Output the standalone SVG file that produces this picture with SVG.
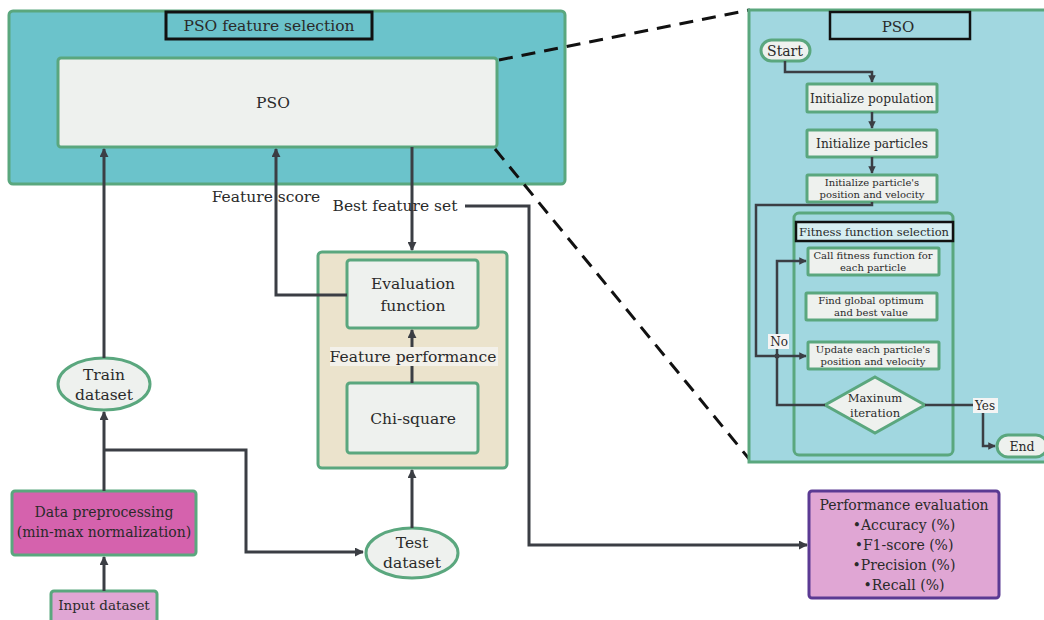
<svg xmlns="http://www.w3.org/2000/svg" width="1044" height="620" viewBox="0 0 1044 620">
  <defs>
    <style>
      text { font-family: "DejaVu Serif", "Liberation Serif", serif; fill: #2a2a2a; text-anchor: middle; }
      .panel { fill: #6bc3cb; stroke: #5aa77e; stroke-width: 3; }
      .zoom { fill: #a1d7e0; stroke: #5aa77e; stroke-width: 3; }
      .node { fill: #eef1ee; stroke: #5aa77e; stroke-width: 3; }
      .tan { fill: #ebe3cc; stroke: #5aa77e; stroke-width: 3; }
      .title { fill: #6bc3cb; stroke: #111; stroke-width: 3; }
      .title2 { fill: #a1d7e0; stroke: #111; stroke-width: 2.5; }
      .title3 { fill: #d6eef1; stroke: #111; stroke-width: 2.5; }
      .magenta { fill: #d562ad; stroke: #5aa77e; stroke-width: 3; }
      .pink { fill: #e0a6d4; stroke: #5aa77e; stroke-width: 3; }
      .perf { fill: #e0a6d4; stroke: #5b3a93; stroke-width: 3; }
      .wire { fill: none; stroke: #3b3e44; stroke-width: 3; }
      .thin { fill: none; stroke: #3b3e44; stroke-width: 2.5; }
      .dash { fill: none; stroke: #111; stroke-width: 3; stroke-dasharray: 14 9; }
    </style>
    <marker id="arr" viewBox="0 0 10 10" refX="9" refY="5" markerWidth="3" markerHeight="3" orient="auto">
      <path d="M0,0 L10,5 L0,10 z" fill="#3b3e44"/>
    </marker>
  </defs>

  <rect width="1044" height="620" fill="#ffffff"/>

  <!-- PSO feature selection block -->
  <g id="pso-block">
    <rect class="panel" x="9" y="11" width="556" height="173" rx="4"/>
    <rect class="title" x="166" y="12" width="206" height="27"/>
    <text x="269" y="31" font-size="15.5">PSO feature selection</text>
  </g>
  <g id="pso">
    <rect class="node" x="58" y="58" width="439" height="89" rx="3"/>
    <text x="273" y="108" font-size="15.5">PSO</text>
  </g>

  <!-- Zoom guide lines from the PSO block to the detail panel -->
  <g id="zoom-guides">
    <line class="dash" x1="499" y1="60" x2="750" y2="10"/>
    <line class="dash" x1="495" y1="149" x2="750" y2="460"/>
  </g>

  <!-- Evaluation block -->
  <g id="eval-block">
    <rect class="tan" x="318" y="252" width="189" height="216" rx="4"/>
  </g>
  <g id="evaluation-function">
    <rect class="node" x="347" y="260" width="131" height="68" rx="3"/>
    <text x="413" y="289" font-size="15.5">Evaluation</text>
    <text x="413" y="311" font-size="15.5">function</text>
  </g>
  <g id="chi-square">
    <rect class="node" x="347" y="383" width="131" height="70" rx="3"/>
    <text x="413" y="424" font-size="15.5">Chi-square</text>
  </g>

  <!-- Datasets and preprocessing -->
  <g id="train-dataset">
    <ellipse class="node" cx="104" cy="384" rx="46" ry="26"/>
    <text x="104" y="380" font-size="15.5">Train</text>
    <text x="104" y="400" font-size="15.5">dataset</text>
  </g>
  <g id="test-dataset">
    <ellipse class="node" cx="412" cy="553" rx="46" ry="25"/>
    <text x="412" y="548" font-size="15.5">Test</text>
    <text x="412" y="568" font-size="15.5">dataset</text>
  </g>
  <g id="data-preprocessing">
    <rect class="magenta" x="12" y="491" width="184" height="64" rx="3"/>
    <text x="104" y="517" font-size="14">Data preprocessing</text>
    <text x="104" y="537" font-size="14">(min-max normalization)</text>
  </g>
  <g id="input-dataset">
    <rect class="pink" x="51" y="591" width="106" height="36" rx="3"/>
    <text x="104" y="610" font-size="13.5">Input dataset</text>
  </g>

  <!-- Performance evaluation -->
  <g id="performance-evaluation">
    <rect class="perf" x="809" y="491" width="190" height="107" rx="3"/>
    <text x="904" y="510" font-size="14">Performance evaluation</text>
    <text x="904" y="530" font-size="14">•Accuracy (%)</text>
    <text x="904" y="550" font-size="14">•F1-score (%)</text>
    <text x="904" y="570" font-size="14">•Precision (%)</text>
    <text x="904" y="590" font-size="14">•Recall (%)</text>
  </g>

  <!-- PSO detail panel -->
  <g id="pso-detail">
    <rect class="zoom" x="749" y="10" width="300" height="452"/>
    <rect class="title2" x="830" y="12" width="140" height="27"/>
    <text x="898" y="32" font-size="15">PSO</text>
  </g>
  <g id="start">
    <rect class="node" x="761" y="40" width="49" height="21" rx="10.5"/>
    <text x="785" y="56" font-size="14">Start</text>
  </g>
  <g id="init-population">
    <rect class="node" x="807" y="84" width="130" height="28" rx="1"/>
    <text x="872" y="103" font-size="12.2">Initialize population</text>
  </g>
  <g id="init-particles">
    <rect class="node" x="807" y="130" width="130" height="27" rx="1"/>
    <text x="872" y="148" font-size="12.2">Initialize particles</text>
  </g>
  <g id="init-position">
    <rect class="node" x="807" y="175" width="130" height="27" rx="1"/>
    <text x="872" y="186" font-size="10">Initialize particle's</text>
    <text x="872" y="198" font-size="10">position and velocity</text>
  </g>
  <g id="fitness-block">
    <rect class="zoom" x="794" y="213" width="159" height="242" rx="5"/>
    <rect class="title3" x="796" y="222" width="157" height="19"/>
    <text x="874" y="236" font-size="11.5">Fitness function selection</text>
  </g>
  <g id="call-fitness">
    <rect class="node" x="808" y="248" width="131" height="27" rx="1"/>
    <text x="873" y="259" font-size="10">Call fitness function for</text>
    <text x="873" y="271" font-size="10">each particle</text>
  </g>
  <g id="global-optimum">
    <rect class="node" x="806" y="293" width="131" height="27" rx="1"/>
    <text x="871" y="304" font-size="10">Find global optimum</text>
    <text x="871" y="316" font-size="10">and best value</text>
  </g>
  <g id="update-particles">
    <rect class="node" x="808" y="342" width="131" height="27" rx="1"/>
    <text x="873" y="353" font-size="10">Update each particle's</text>
    <text x="873" y="365" font-size="10">position and velocity</text>
  </g>
  <g id="max-iteration">
    <polygon class="node" points="875,377 925,405 875,433 825,405"/>
    <text x="875" y="402" font-size="11.5">Maxinum</text>
    <text x="875" y="417" font-size="11.5">iteration</text>
  </g>
  <g id="end">
    <rect class="node" x="997" y="435" width="50" height="22" rx="11"/>
    <text x="1022" y="451" font-size="12.5">End</text>
  </g>

  <!-- Connectors -->
  <g id="connectors">
    <!-- main flow -->
    <polyline class="wire" points="104,591 104,557" marker-end="url(#arr)"/>
    <polyline class="wire" points="104,491 104,412" marker-end="url(#arr)"/>
    <polyline class="wire" points="104,450 246,450 246,552 363,552" marker-end="url(#arr)"/>
    <polyline class="wire" points="104,358 104,149" marker-end="url(#arr)"/>
    <polyline class="wire" points="412,528 412,470" marker-end="url(#arr)"/>
    <polyline class="wire" points="412,383 412,330" marker-end="url(#arr)"/>
    <polyline class="wire" points="347,295 276,295 276,149" marker-end="url(#arr)"/>
    <polyline class="wire" points="412,147 412,250" marker-end="url(#arr)"/>
    <polyline class="wire" points="465,206 529,206 529,545 807,545" marker-end="url(#arr)"/>
    <!-- PSO detail flow -->
    <polyline class="thin" points="785,61 785,72 872,72 872,82" marker-end="url(#arr)"/>
    <polyline class="thin" points="872,112 872,128" marker-end="url(#arr)"/>
    <polyline class="thin" points="872,157 872,173" marker-end="url(#arr)"/>
    <polyline class="thin" points="872,202 872,205 756,205 756,356 806,356" marker-end="url(#arr)"/>
    <polyline class="thin" points="825,405 777,405 777,261 806,261" marker-end="url(#arr)"/>
    <polyline class="thin" points="925,405 983,405 983,446 995,446" marker-end="url(#arr)"/>
    <circle cx="777" cy="356" r="2.5" fill="#3b3e44"/>
  </g>

  <!-- Connector labels -->
  <g id="labels">
    <text x="266" y="202" font-size="15.5">Feature score</text>
    <text x="395" y="211" font-size="15.5">Best feature set</text>
    <rect x="330" y="347" width="168" height="19" fill="#f3f1ea"/>
    <text x="413" y="362" font-size="15.5">Feature performance</text>
    <rect x="768" y="334" width="21" height="15" fill="#f4f4f4"/>
    <text x="779" y="346" font-size="12">No</text>
    <rect x="973" y="398" width="25" height="15" fill="#f4f4f4"/>
    <text x="985" y="410" font-size="12">Yes</text>
  </g>
</svg>
